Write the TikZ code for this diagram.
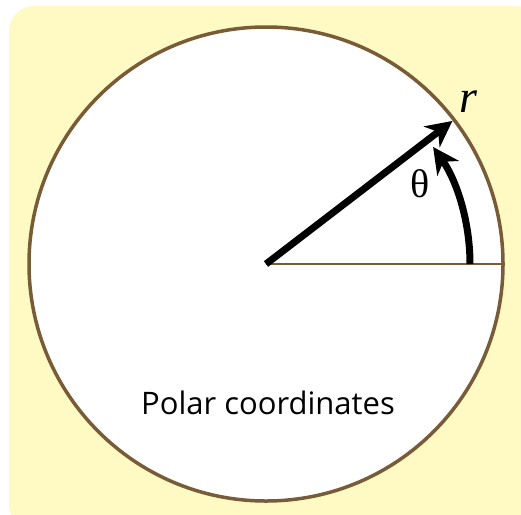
\documentclass[tikz,border=0pt]{standalone}
\usepackage{fontspec}
\newfontfamily\labelfont{Open Sans}
\newfontfamily\symfont{Liberation Serif}
\usetikzlibrary{arrows.meta,calc}
\definecolor{bgyellow}{RGB}{255,249,196}
\definecolor{rimbrown}{RGB}{120,92,56}
\tikzset{
  rim/.style={draw=rimbrown, line width=3.5pt, fill=white},
  axisline/.style={draw=rimbrown, line width=2pt},
  radius arrow/.style={draw=black, line width=7pt, -{Stealth[length=26pt,width=26pt,inset=8pt]}},
  angle arrow/.style={draw=black, line width=7pt, -{Stealth[length=26pt,width=26pt,inset=8pt]}},
}
\begin{document}
\begin{tikzpicture}[x=1pt,y=-1pt]
  \useasboundingbox (0,0) rectangle (521,514);
  \fill[bgyellow, rounded corners=25pt] (9,6) rectangle (540,530);
  \coordinate (O) at (266,264);
  \draw[rim] (O) circle[radius=237];
  \coordinate (E) at (503,264);
  \draw[axisline] (O) -- (E);
  \coordinate (P) at ($(O)+(-37.5:237)$);
  \draw[radius arrow] (O) -- ($(O)+(-37.5:235)$);
  \draw[angle arrow] ($(O)+(0:204)$) arc[start angle=0, end angle=-35, radius=204];
  \node (theta) at (420,184) {\symfont\fontsize{40}{42}\selectfont θ};
  \node (r) at (468,102) {\symfont\itshape\fontsize{46}{48}\selectfont r};
  \node (title) at (268,403) {\labelfont\fontsize{31}{34}\selectfont Polar coordinates};
\end{tikzpicture}
\end{document}
